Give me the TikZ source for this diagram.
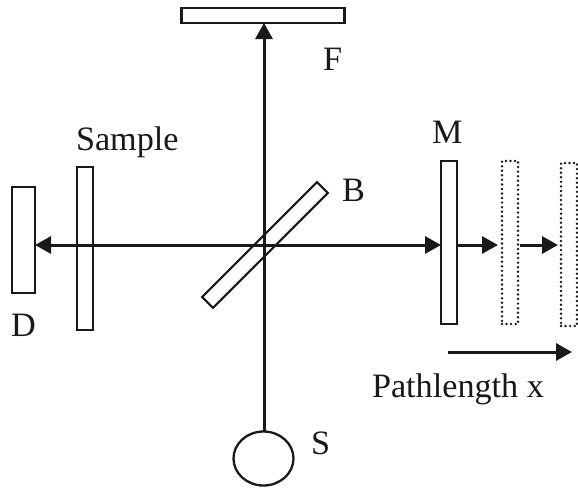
\documentclass[tikz,border=0pt]{standalone}
\usepackage{fontspec}
\setmainfont{Liberation Serif}
\usetikzlibrary{arrows.meta,shapes.geometric}
\tikzset{
  plate/.style={draw=black!90,line width=2.3pt,fill=white,rectangle,inner sep=0pt,outer sep=0pt},
  ghost/.style={draw=black!90,line width=2.7pt,line cap=round,dash pattern=on 0pt off 4.55pt,rectangle,inner sep=0pt,outer sep=0pt},
  beam/.style={line width=3pt,draw=black!90,-{Triangle[length=16pt,width=17pt]}},
  twobeam/.style={line width=3pt,draw=black!90,{Triangle[length=16pt,width=17pt]}-{Triangle[length=16pt,width=17pt]}},
  lab/.style={anchor=base west,inner sep=0pt,outer sep=0pt,text=black!90,font=\fontsize{34.2}{40}\selectfont}
}
\begin{document}
\begin{tikzpicture}[x=1pt,y=-1pt]
\useasboundingbox (0,0) rectangle (578,488);
\fill[white] (0,0) rectangle (578,488);
% plates
\node[plate,minimum width=163pt,minimum height=15pt] (F) at (263,15.5) {};
\node[plate,minimum width=23pt,minimum height=106pt] (D) at (23.5,240) {};
\node[plate,minimum width=16pt,minimum height=163pt] (Sm) at (85,248.5) {};
\node[plate,minimum width=16pt,minimum height=163pt] (M) at (449,242.5) {};
\node[ghost,minimum width=16pt,minimum height=163pt] (G1) at (510,242.5) {};
\node[ghost,minimum width=16pt,minimum height=163pt] (G2) at (569,244.5) {};
\node[draw=black!90,line width=2.3pt,ellipse,inner sep=0pt,outer sep=0pt,minimum width=60pt,minimum height=54pt] (Src) at (263.5,458.5) {};
\coordinate (axis) at (264,245);
% beams
\draw[twobeam] (M.west |- axis) -- (D.east |- axis);
\draw[beam] (Src.north -| axis) -- (F.south -| axis);
\node[draw=black!90,line width=2.1pt,rectangle,inner sep=0pt,outer sep=0pt,minimum width=162.5pt,minimum height=15.5pt,rotate=45] (B) at (265,245) {};
\draw[beam,shorten >=4pt] (M.east |- axis) -- (G1.west |- axis);
\draw[beam,shorten <=2pt,shorten >=3pt] (G1.east |- axis) -- (G2.west |- axis);
\coordinate (pa) at (448,352);
\coordinate (pb) at (572,352);
\draw[beam] (pa) -- (pb);
% labels
\node[lab] (tF) at (323,70) {F};
\node[lab] (tSample) at (76,150) {Sample};
\node[lab] (tM) at (432,143) {M};
\node[lab] (tB) at (342,201) {B};
\node[lab] (tD) at (11,336) {D};
\node[lab] (tS) at (311,454) {S};
\node[lab] (tP) at (372,397) {Pathlength x};
\end{tikzpicture}
\end{document}
